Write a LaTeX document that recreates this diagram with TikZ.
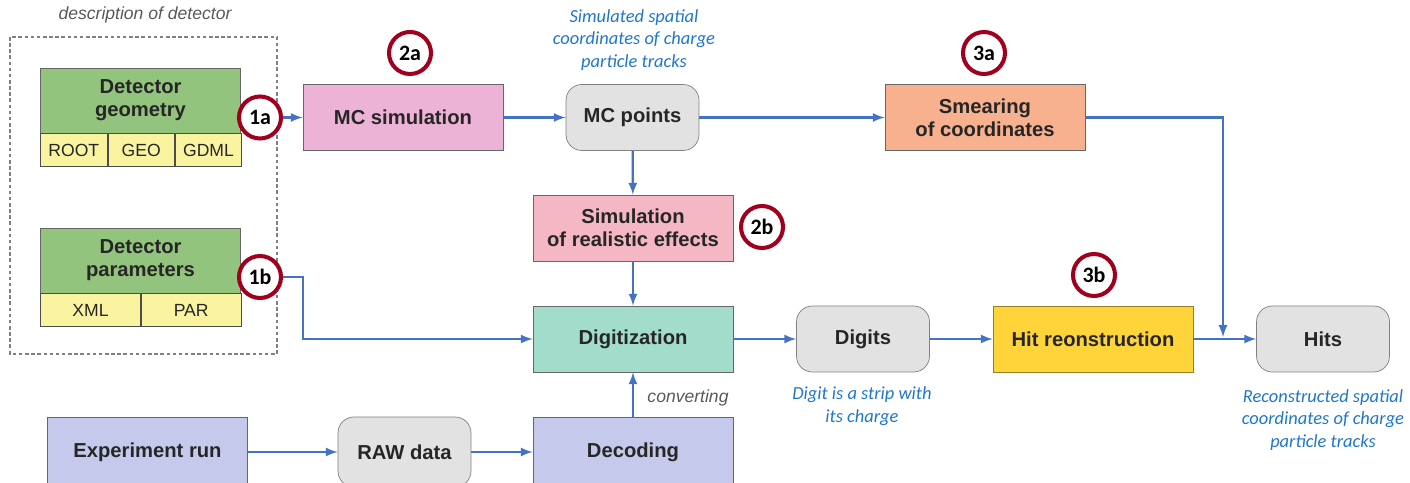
\documentclass[tikz,border=0pt]{standalone}
\usepackage{fontspec}
\setmainfont{Liberation Sans}
\newfontfamily\notefont{Carlito}
\usetikzlibrary{arrows}
\usetikzlibrary{calc}

\definecolor{geomgreen}{HTML}{93C47D}
\definecolor{fmtyellow}{HTML}{FAF3A0}
\definecolor{mcpink}{HTML}{EDB3D6}
\definecolor{effpink}{HTML}{F5B7C3}
\definecolor{digiteal}{HTML}{A2DCCB}
\definecolor{ptgray}{HTML}{E2E2E2}
\definecolor{smearorange}{HTML}{F8B18E}
\definecolor{hityellow}{HTML}{FFD43B}
\definecolor{runblue}{HTML}{C5CAEC}
\definecolor{linkblue}{HTML}{4472C4}
\definecolor{notecyan}{HTML}{1F77C9}
\definecolor{markred}{HTML}{A0001E}

\tikzset{
    box/.style={draw=gray!80!black, minimum width=4cm, minimum height=1.32cm,
        align=center, text=black!85, font=\fontsize{11.5}{13}\selectfont\bfseries},
    pointbox/.style={box, rounded corners=9pt, fill=ptgray, draw=gray, minimum width=2.66cm},
    cell/.style={draw=gray!60!black, fill=fmtyellow, minimum height=0.66cm, inner sep=0pt,
        text=black!85, font=\fontsize{10}{12}\selectfont},
    badge/.style={circle, draw=markred, line width=2.3pt, fill=white, minimum size=0.84cm,
        inner sep=0pt, font=\notefont\bfseries\fontsize{12.5}{14}\selectfont},
    note/.style={align=center, text=notecyan, font=\notefont\itshape\fontsize{10.5}{12.8}\selectfont},
    remark/.style={text=black!65, font=\itshape\fontsize{10}{12}\selectfont},
    link/.style={-latex, line width=1.3pt, color=linkblue}
}

\begin{document}
\begin{tikzpicture}[x=0.02cm, y=-0.02cm, every edge/.style={draw, link}]
    \clip (0,0) rectangle (1410,483);

    % detector description
    \node[remark] (desc) at (145,15) {description of detector};
    \draw[gray, line width=1.2pt, dash pattern=on 2pt off 1.5pt] (10,37) rectangle (277,354);

    \node[box, fill=geomgreen, minimum height=1.3cm] (geom) at (140.5,100.5) {Detector\\geometry};
    \node[cell, minimum width=1.333cm, anchor=north west] (root) at (geom.south west) {ROOT};
    \node[cell, minimum width=1.333cm, anchor=west] (geo) at (root.east) {GEO};
    \node[cell, minimum width=1.333cm, anchor=west] (gdml) at (geo.east) {GDML};

    \node[box, fill=geomgreen, minimum height=1.3cm] (param) at (140.5,260.5) {Detector\\parameters};
    \node[cell, minimum width=2cm, anchor=north west] (xml) at (param.south west) {XML};
    \node[cell, minimum width=2cm, anchor=west] (par) at (xml.east) {PAR};

    % simulation chain
    \node[box, fill=mcpink] (mcsim) at (403,117.5) {MC simulation};
    \node[pointbox] (mcpoints) at (632.5,117.5) {MC points};
    \node[box, fill=smearorange] (smear) at (985,117.5) {Smearing\\of coordinates};
    \node[box, fill=effpink] (effects) at (633,228) {Simulation\\of realistic effects};
    \node[box, fill=digiteal] (digit) at (633,339) {Digitization};
    \node[pointbox] (digits) at (863,339) {Digits};
    \node[box, fill=hityellow, draw=hityellow!60!black] (hitreco) at (1093,339) {Hit reonstruction};
    \node[pointbox] (hits) at (1323,339) {Hits};

    % experiment chain
    \node[box, fill=runblue, minimum height=1.4cm] (exprun) at (147.5,452) {Experiment run};
    \node[pointbox, minimum height=1.4cm] (rawdata) at (404.5,452) {RAW data};
    \node[box, fill=runblue, minimum height=1.4cm] (decode) at (633,452) {Decoding};

    % notes
    \node[note] (mcnote) at (634,40) {Simulated spatial\\coordinates of charge\\particle tracks};
    \node[note] (dignote) at (862,406) {Digit is a strip with\\its charge};
    \node[note] (hitnote) at (1323,420) {Reconstructed spatial\\coordinates of charge\\particle tracks};
    \node[remark] (conv) at (688,398) {converting};

    % numbered steps
    \node[badge] (b1a) at (260,117.5) {1a};
    \node[badge] (b1b) at (260,277) {1b};
    \node[badge] (b2a) at (410,53) {2a};
    \node[badge] (b2b) at (762,227) {2b};
    \node[badge] (b3a) at (984,53) {3a};
    \node[badge] (b3b) at (1094,275) {3b};

    \coordinate (bend1b) at (303,277);
    \coordinate (join) at (1223,337);

    \draw [link] (b1a) edge (mcsim)
                 (mcsim) edge (mcpoints)
                 (mcpoints) edge (smear)
                 (mcpoints) edge (effects)
                 (effects) edge (digit)
                 (decode) edge (digit)
                 (digit) edge (digits)
                 (digits) edge (hitreco)
                 (hitreco) edge (hits)
                 (exprun) edge (rawdata)
                 (rawdata) edge (decode);
    \draw [link] (b1b.east) -- (bend1b) |- (digit.west);
    \draw [link] (smear.east) -| (join);
\end{tikzpicture}
\end{document}
